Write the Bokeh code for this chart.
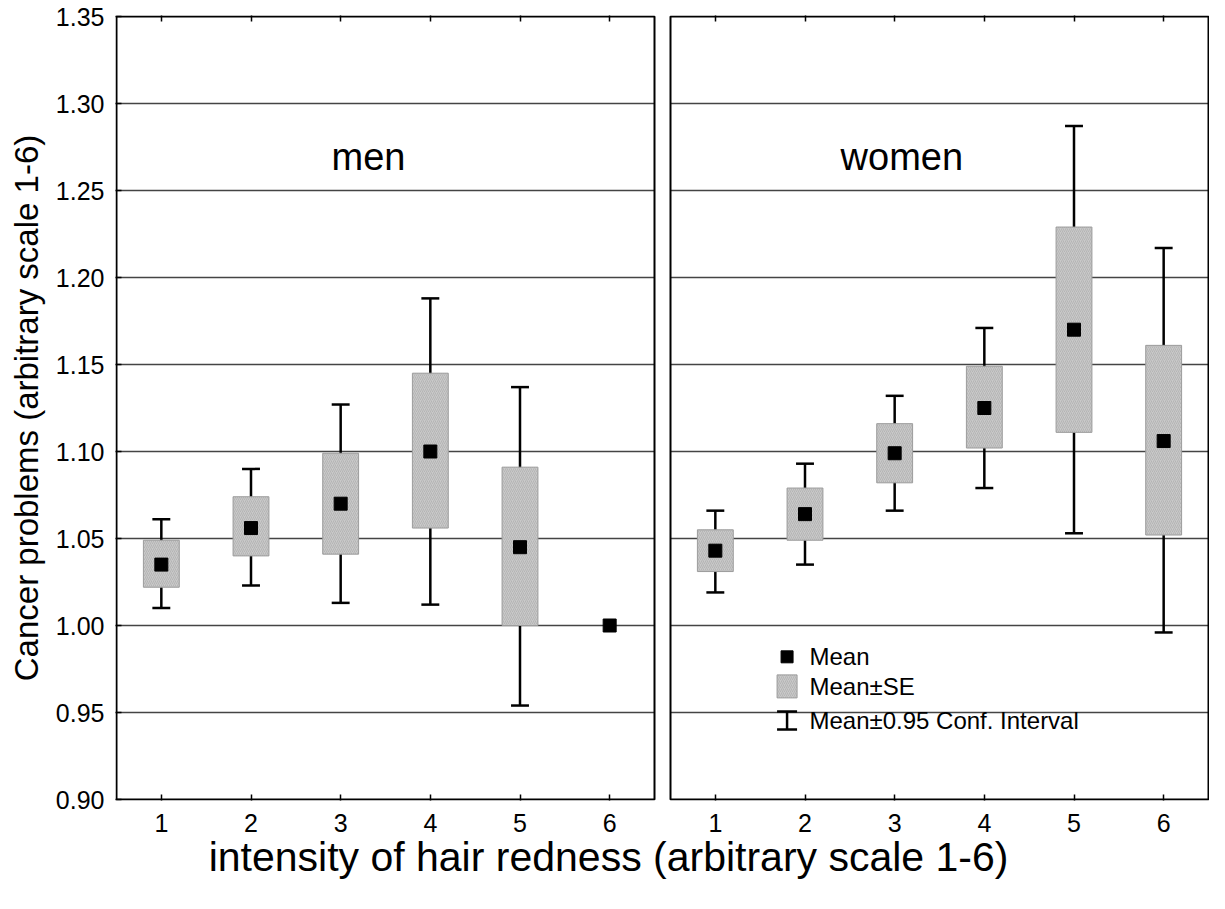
from bokeh.plotting import figure
from bokeh.models import Range1d, FixedTicker, LinearAxis, Title, NumeralTickFormatter
from bokeh.embed import file_html
from bokeh.resources import INLINE
from bokeh.core.properties import value

NaN = float("nan")

categories = [1, 2, 3, 4, 5, 6]
tick_labels = ["1", "2", "3", "4", "5", "6"]
y_ticks = [0.90, 0.95, 1.00, 1.05, 1.10, 1.15, 1.20, 1.25, 1.30, 1.35]

men_mean = [1.035, 1.056, 1.070, 1.100, 1.045, 1.000]
men_se_lo = [1.022, 1.040, 1.041, 1.056, 1.000, NaN]
men_se_hi = [1.049, 1.074, 1.099, 1.145, 1.091, NaN]
men_ci_lo = [1.010, 1.023, 1.013, 1.012, 0.954, NaN]
men_ci_hi = [1.061, 1.090, 1.127, 1.188, 1.137, NaN]

women_mean = [1.043, 1.064, 1.099, 1.125, 1.170, 1.106]
women_se_lo = [1.031, 1.049, 1.082, 1.102, 1.111, 1.052]
women_se_hi = [1.055, 1.079, 1.116, 1.149, 1.229, 1.161]
women_ci_lo = [1.019, 1.035, 1.066, 1.079, 1.053, 0.996]
women_ci_hi = [1.066, 1.093, 1.132, 1.171, 1.287, 1.217]

panel_titles = ["men", "women"]
legend_labels = ["Mean", "Mean\u00b1SE", "Mean\u00b10.95 Conf. Interval"]
x_title = "intensity of hair redness (arbitrary scale 1-6)"
y_title = "Cancer problems (arbitrary scale 1-6)"

# layout constants (pixels)
PANEL_W = 538
GAP_PX = 16
PX = PANEL_W / 6.0
OFF = 6.0 + GAP_PX / PX
PANEL_H = 783
PY = PANEL_H / 0.45
Y0, Y1 = 0.90, 1.35
EPX = 1.0 / PX      # 1px margin so the frame lines are not clipped
EPY = 1.0 / PY

FONT = "Liberation Sans"
BOX_FILL = "#c9c9c9"
BOX_LINE = "#9c9c9c"
HATCH = "#a6a6a6"
GRID = "#444444"

LEFT_B = 115
TOP_B = 15
FW = 2 * PANEL_W + GAP_PX + 2
FH = PANEL_H + 2

p = figure(
    frame_width=FW, frame_height=FH,
    x_range=Range1d(0.5 - EPX, 6.5 + OFF + EPX),
    y_range=Range1d(Y0 - EPY, Y1 + EPY),
    output_backend="svg", toolbar_location=None,
    min_border_left=LEFT_B, min_border_right=0, min_border_top=TOP_B,
    min_border_bottom=88,
)
p.outline_line_color = None
p.xgrid.visible = False
p.ygrid.visible = False
p.background_fill_color = "white"

xt = [c for c in categories] + [c + OFF for c in categories]
overrides = {}
for c, t in zip(categories, tick_labels):
    overrides[c] = t
    overrides[c + OFF] = t

xa = p.xaxis[0]
xa.ticker = FixedTicker(ticks=xt)
xa.major_label_overrides = overrides
xa.axis_line_color = None
xa.major_tick_in = 6
xa.major_tick_out = 0
xa.major_tick_line_width = 1.5
xa.minor_tick_line_color = None
xa.major_label_text_font = FONT
xa.major_label_text_font_size = "25px"
xa.major_label_text_color = "black"
xa.major_label_standoff = 13

ya = p.yaxis[0]
ya.ticker = FixedTicker(ticks=y_ticks)
ya.formatter = NumeralTickFormatter(format="0.00")
ya.axis_line_color = None
ya.major_tick_in = 6
ya.major_tick_out = 0
ya.major_tick_line_width = 1.5
ya.minor_tick_line_color = None
ya.major_label_text_font = FONT
ya.major_label_text_font_size = "25px"
ya.major_label_text_color = "black"
ya.major_label_standoff = 11
ya.axis_label = y_title
ya.axis_label_text_font = FONT
ya.axis_label_text_font_size = "33px"
ya.axis_label_text_font_style = "normal"
ya.axis_label_text_color = "black"
ya.axis_label_standoff = 8

top = LinearAxis(ticker=FixedTicker(ticks=xt), axis_line_color=None,
                 major_tick_in=6, major_tick_out=0, major_tick_line_width=1.5,
                 minor_tick_line_color=None, major_label_text_font_size="0px",
                 major_label_standoff=0)
p.add_layout(top, "above")

# x-axis title, centred on the page like the reference
TITLE_FS = 41
title_w = 19.506 * TITLE_FS
p.add_layout(Title(text=x_title, align="left", offset=616 - title_w / 2 - (8 + LEFT_B),
                   standoff=-2, vertical_align="top", text_font=FONT,
                   text_font_size=f"{TITLE_FS}px", text_font_style="normal",
                   text_color="black"), "below")

# gridlines per panel
grid_vals = [v for v in y_ticks if Y0 < v < Y1]
for off in (0.0, OFF):
    p.segment(x0=[0.5 + off] * len(grid_vals), x1=[6.5 + off] * len(grid_vals),
              y0=grid_vals, y1=grid_vals, line_color=GRID, line_width=1.5)

BOX_HW = 0.2
CAP_HW = 0.1


def draw_panel(off, mean, se_lo, se_hi, ci_lo, ci_hi):
    xs = [c + off for c in categories]
    p.segment(x0=xs, x1=xs, y0=ci_lo, y1=ci_hi, line_color="black", line_width=2.5)
    p.segment(x0=[x - CAP_HW for x in xs], x1=[x + CAP_HW for x in xs],
              y0=ci_hi, y1=ci_hi, line_color="black", line_width=2.5)
    p.segment(x0=[x - CAP_HW for x in xs], x1=[x + CAP_HW for x in xs],
              y0=ci_lo, y1=ci_lo, line_color="black", line_width=2.5)
    p.quad(left=[x - BOX_HW for x in xs], right=[x + BOX_HW for x in xs],
           bottom=se_lo, top=se_hi, fill_color=BOX_FILL, line_color=BOX_LINE,
           line_width=1, hatch_pattern="/", hatch_color=HATCH, hatch_scale=4,
           hatch_weight=0.6)
    p.scatter(x=xs, y=mean, marker="square", size=13, color="black")


draw_panel(0.0, men_mean, men_se_lo, men_se_hi, men_ci_lo, men_ci_hi)
draw_panel(OFF, women_mean, women_se_lo, women_se_hi, women_ci_lo, women_ci_hi)

# panel frames
p.quad(left=[0.5, 0.5 + OFF], right=[6.5, 6.5 + OFF], bottom=[Y0, Y0], top=[Y1, Y1],
       fill_color=None, line_color="black", line_width=2)

# panel titles
p.text(x=[3.31, 3.08 + OFF], y=[1.269, 1.269], text=panel_titles,
       text_font=value(FONT), text_font_size="38px", text_align="center",
       text_baseline="middle", text_color="black")

# legend (right panel)
lx = 1.80 + OFF
tx = 2.05 + OFF
ly = [0.9820, 0.9650, 0.9454]
bw = 10.0 / PX
bh = 11.5 / PY
ch = 9.0 / PY
p.scatter(x=[lx], y=[ly[0]], marker="square", size=12, color="black")
p.quad(left=[lx - bw], right=[lx + bw], bottom=[ly[1] - bh], top=[ly[1] + bh],
       fill_color=BOX_FILL, line_color=BOX_LINE, line_width=1, hatch_pattern="/",
       hatch_color=HATCH, hatch_scale=4, hatch_weight=0.6)
p.segment(x0=[lx], x1=[lx], y0=[ly[2] - ch], y1=[ly[2] + ch], line_color="black",
          line_width=2.5)
p.segment(x0=[lx - bw, lx - bw], x1=[lx + bw, lx + bw], y0=[ly[2] - ch, ly[2] + ch],
          y1=[ly[2] - ch, ly[2] + ch], line_color="black", line_width=2.5)
p.text(x=[tx] * 3, y=ly, text=legend_labels, text_font=value(FONT),
       text_font_size="24px", text_align="left", text_baseline="middle",
       text_color="black")

open("out.html", "w").write(file_html(p, INLINE))
